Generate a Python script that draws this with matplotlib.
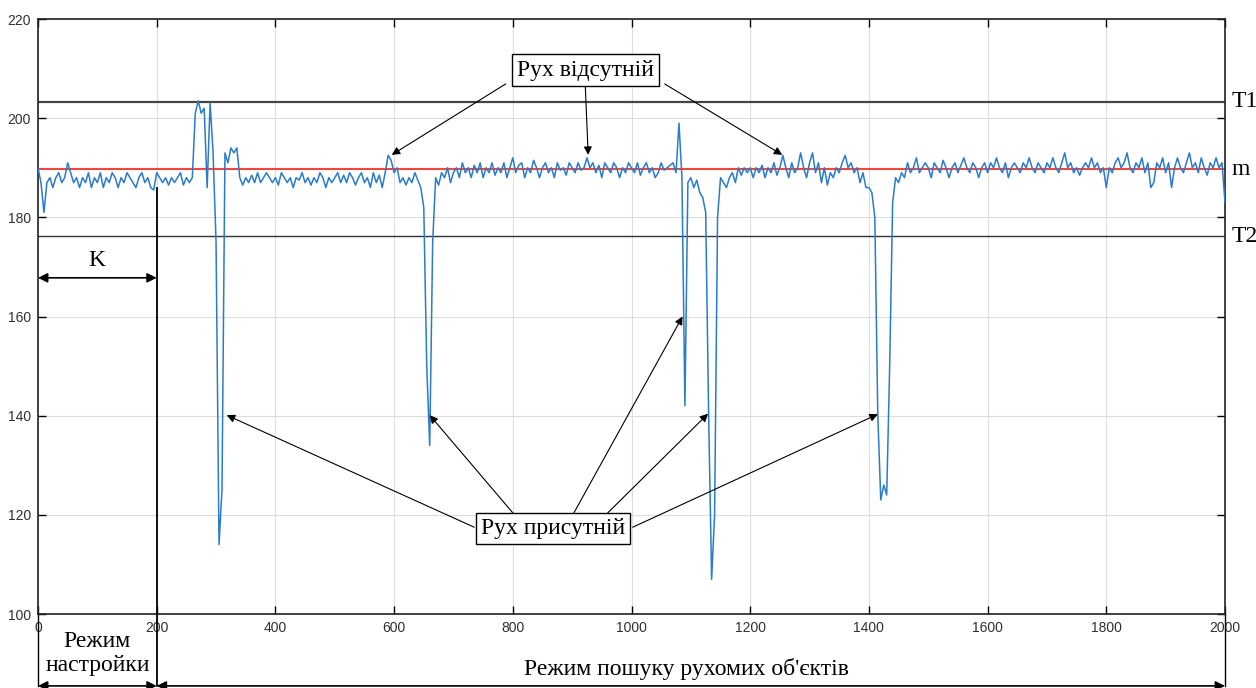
import numpy as np
import matplotlib
matplotlib.use("Agg")
import matplotlib.pyplot as plt

# -----------------------------
# Data (one sample every 5 frames)
# -----------------------------
frame_step = 5
signal = [
    # 0 - 95
    190, 187, 181, 187, 188, 186, 188, 189, 187, 188, 191, 189, 187, 188, 186, 188, 187, 189, 186, 188,
    # 100 - 195
    187, 189, 186, 188, 187, 189, 188, 186, 188, 187, 189, 188, 187, 186, 188, 189, 187, 188, 186, 185.5,
    # 200 - 295
    189, 188, 187, 188, 186.5, 188, 187, 188, 189, 186.5, 188, 187, 188, 201, 203.5, 201, 202, 186, 203, 193,
    # 300 - 395
    175, 114, 125, 193, 191, 194, 193, 194, 188, 186.5, 188, 187, 188.5, 187, 189, 187, 188, 189, 188, 187,
    # 400 - 495
    188, 186.5, 189, 188, 187, 188, 186, 188, 187.5, 189, 187, 188, 186.5, 188, 187, 189, 188, 186, 188, 187,
    # 500 - 595
    188, 189, 187, 188.5, 187, 189, 188, 186.5, 188, 189, 187, 188, 186, 189, 187, 188.5, 186, 189, 192.5, 191.5,
    # 600 - 695
    189, 190, 187, 188, 186.5, 188, 187, 189, 187.5, 186, 182, 150, 134, 175, 188, 186.5, 189, 188, 190, 187,
    # 700 - 795
    189, 190, 188, 191, 189, 190, 188, 190.5, 189, 191, 188, 190, 189, 191, 188.5, 190, 189, 191, 188, 190,
    # 800 - 895
    192, 189, 190.5, 191, 188, 190, 189, 191.5, 190, 188, 190, 191, 189, 190, 188, 191, 189.5, 190, 188.5, 191,
    # 900 - 995
    190, 189, 191, 189.5, 190, 192, 190, 191, 189, 190.5, 188, 191, 190, 189, 191, 190, 188, 190, 189, 191,
    # 1000 - 1095
    190, 189, 191, 188.5, 190, 191, 189, 190, 188, 189, 191, 189.5, 190, 190.5, 191, 189, 199, 188, 142, 187,
    # 1100 - 1195
    188, 186, 187.5, 185, 184, 181, 140, 107, 120, 180, 188, 187, 186, 188, 189, 187, 190, 188.5, 190, 189,
    # 1200 - 1295
    190, 188, 190, 189, 190.5, 188, 190, 189, 191, 188.5, 190, 192.5, 190, 188, 191, 189, 190, 193, 190, 188,
    # 1300 - 1395
    191, 193, 189, 191, 187, 190, 186.5, 189, 188, 190, 189, 191, 192.5, 190, 191, 189, 190, 187, 189, 186,
    # 1400 - 1495
    186, 185, 180, 140, 123, 126, 124, 150, 183, 188, 187, 189, 188, 191, 189, 190, 192, 189, 190, 191,
    # 1500 - 1595
    190, 188, 191, 190, 189, 191.5, 190, 188, 190, 191, 189, 190.5, 192, 190, 189, 191, 190, 188, 190, 191,
    # 1600 - 1695
    189, 191, 190, 192, 190, 189, 191, 188, 190, 191, 190, 189, 191, 190, 192, 190, 189, 191, 190, 189,
    # 1700 - 1795
    191, 190, 192, 190, 189, 191, 193, 190, 191, 189, 190, 188.5, 190, 191, 190, 192, 190, 191, 189, 190,
    # 1800 - 1895
    186, 190, 189, 191, 192, 190, 191, 193, 190, 189, 191, 190, 192, 189, 191, 186, 187, 191, 190, 192,
    # 1900 - 1995
    189, 191, 186, 190, 192, 190, 189, 191, 193, 190, 191, 189, 192, 190, 188.5, 191, 190, 192, 190, 191,
    # 2000
    183,
]
frames = np.arange(0, frame_step * len(signal), frame_step)

m_level = 189.7    # mean level (red line)
t1_level = 203.3   # upper threshold
t2_level = 176.2   # lower threshold
k_frames = 200     # length of the tuning mode
last_frame = 2000

absent_label = "Рух відсутній"
absent_box = (922, 209.7)
absent_starts = [(788, 206.9), (922, 206.9), (1056, 206.9)]
absent_targets = [(596, 192.6), (927, 192.6), (1254, 192.6)]

present_label = "Рух присутній"
present_box = (868, 117.3)
present_starts = [(735, 117.5), (800, 120.4), (903, 120.4), (960, 120.4), (1002, 117.5)]
present_targets = [(318, 140.1), (660, 140.1), (1086, 160), (1129, 140.4), (1415, 140.3)]

serif = "Liberation Serif"
fs = 17

# -----------------------------
# Figure
# -----------------------------
fig = plt.figure(figsize=(12.56, 6.88), dpi=100)
ax = fig.add_axes([38 / 1256, 1 - 614 / 688, 1187 / 1256, 595 / 688])

ax.axhline(t1_level, color="#444444", lw=1.6, zorder=2)
ax.axhline(t2_level, color="#333333", lw=1.0, zorder=2)
ax.axhline(m_level, color="#f0463c", lw=1.5, zorder=2)
ax.plot(frames, signal, color="#2b7bcb", lw=1.1, zorder=3)

ax.set_xlim(0, last_frame)
ax.set_ylim(100, 220)
ax.set_xticks(range(0, 2001, 200))
ax.set_yticks(range(100, 221, 20))
ax.grid(True, color="#dddddd", lw=0.8)
ax.set_axisbelow(True)
ax.tick_params(direction="in", top=True, right=True, length=6, width=1,
               labelsize=10, labelcolor="#303030", pad=5)
for lab in ax.get_xticklabels() + ax.get_yticklabels():
    lab.set_family("Liberation Sans")
for sp in ax.spines.values():
    sp.set_color("#222222")
    sp.set_linewidth(1.2)

# threshold labels on the right
for lvl, name in [(t1_level, "T1"), (m_level, "m"), (t2_level, "T2")]:
    ax.text(last_frame + 11, lvl, name, ha="left", va="center",
            fontsize=fs, family=serif, clip_on=False)

# K marker
y_bottom = 85.5
ax.plot([k_frames, k_frames], [186, y_bottom], color="black", lw=1.3,
        clip_on=False, zorder=4)
for xv in [0, last_frame]:
    ax.plot([xv, xv], [100, y_bottom], color="black", lw=1.0, clip_on=False)

arrow_kw = dict(arrowstyle="<|-|>", color="black", lw=1.2, mutation_scale=14,
                shrinkA=0, shrinkB=0)
ax.annotate("", xy=(0, 167.8), xytext=(k_frames, 167.8), arrowprops=arrow_kw)
ax.text(k_frames / 2, 171.3, "K", ha="center", va="center", fontsize=fs, family=serif)

# bottom mode arrows
ax.annotate("", xy=(0, y_bottom), xytext=(k_frames, y_bottom),
            arrowprops=arrow_kw, annotation_clip=False)
ax.annotate("", xy=(k_frames, y_bottom), xytext=(last_frame, y_bottom),
            arrowprops=arrow_kw, annotation_clip=False)
ax.text(k_frames / 2, 92.0, "Режим\nнастройки", ha="center", va="center",
        fontsize=fs, family=serif, linespacing=1.2, clip_on=False)
ax.text(1092, 89.0, "Режим пошуку рухомих об'єктів", ha="center", va="center",
        fontsize=fs, family=serif, clip_on=False)

# callouts
box_kw = dict(boxstyle="square,pad=0.22", fc="white", ec="black", lw=1.0)
callout_kw = dict(arrowstyle="-|>", color="black", lw=0.8, mutation_scale=12,
                  shrinkA=0, shrinkB=0)
for start, target in zip(absent_starts, absent_targets):
    ax.annotate("", xy=target, xytext=start, arrowprops=callout_kw, zorder=5)
for start, target in zip(present_starts, present_targets):
    ax.annotate("", xy=target, xytext=start, arrowprops=callout_kw, zorder=5)
ax.text(*absent_box, absent_label, ha="center", va="center", fontsize=fs,
        family=serif, bbox=box_kw, zorder=6)
ax.text(*present_box, present_label, ha="center", va="center", fontsize=fs,
        family=serif, bbox=box_kw, zorder=6)

fig.savefig("out.png", dpi=100)
